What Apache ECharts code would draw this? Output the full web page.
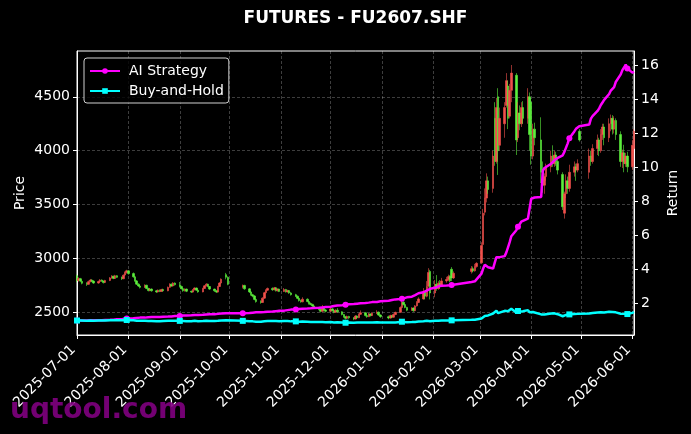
<!DOCTYPE html>
<html><head><meta charset="utf-8">
<script src="https://cdn.jsdelivr.net/npm/echarts@6/dist/echarts.min.js"></script>
<style>html,body{margin:0;padding:0;background:#000;}#c{width:691px;height:434px;}</style>
</head><body><div id="c"></div>
<script>
const dates = [
'2025-07-01','2025-07-02','2025-07-03','2025-07-04','2025-07-07','2025-07-08','2025-07-09','2025-07-10','2025-07-11','2025-07-14','2025-07-15','2025-07-16','2025-07-17','2025-07-18','2025-07-21','2025-07-22','2025-07-23','2025-07-24','2025-07-25','2025-07-28','2025-07-29','2025-07-30','2025-07-31',
'2025-08-01','2025-08-04','2025-08-05','2025-08-06','2025-08-07','2025-08-08','2025-08-11','2025-08-12','2025-08-13','2025-08-14','2025-08-15','2025-08-18','2025-08-19','2025-08-20','2025-08-21','2025-08-22','2025-08-25','2025-08-26','2025-08-27','2025-08-28','2025-08-29',
'2025-09-01','2025-09-02','2025-09-03','2025-09-04','2025-09-05','2025-09-08','2025-09-09','2025-09-10','2025-09-11','2025-09-12','2025-09-15','2025-09-16','2025-09-17','2025-09-18','2025-09-19','2025-09-22','2025-09-23','2025-09-24','2025-09-25','2025-09-26','2025-09-29','2025-09-30',
'2025-10-09','2025-10-10','2025-10-13','2025-10-14','2025-10-15','2025-10-16','2025-10-17','2025-10-20','2025-10-21','2025-10-22','2025-10-23','2025-10-24','2025-10-27','2025-10-28','2025-10-29','2025-10-30','2025-10-31',
'2025-11-03','2025-11-04','2025-11-05','2025-11-06','2025-11-07','2025-11-10','2025-11-11','2025-11-12','2025-11-13','2025-11-14','2025-11-17','2025-11-18','2025-11-19','2025-11-20','2025-11-21','2025-11-24','2025-11-25','2025-11-26','2025-11-27','2025-11-28',
'2025-12-01','2025-12-02','2025-12-03','2025-12-04','2025-12-05','2025-12-08','2025-12-09','2025-12-10','2025-12-11','2025-12-12','2025-12-15','2025-12-16','2025-12-17','2025-12-18','2025-12-19','2025-12-22','2025-12-23','2025-12-24','2025-12-25','2025-12-26','2025-12-29','2025-12-30','2025-12-31',
'2026-01-05','2026-01-06','2026-01-07','2026-01-08','2026-01-09','2026-01-12','2026-01-13','2026-01-14','2026-01-15','2026-01-16','2026-01-19','2026-01-20','2026-01-21','2026-01-22','2026-01-23','2026-01-26','2026-01-27','2026-01-28','2026-01-29','2026-01-30',
'2026-02-02','2026-02-03','2026-02-04','2026-02-05','2026-02-06','2026-02-09','2026-02-10','2026-02-11','2026-02-12','2026-02-13','2026-02-24','2026-02-25','2026-02-26','2026-02-27',
'2026-03-02','2026-03-03','2026-03-04','2026-03-05','2026-03-06','2026-03-09','2026-03-10','2026-03-11','2026-03-12','2026-03-13','2026-03-16','2026-03-17','2026-03-18','2026-03-19','2026-03-20','2026-03-23','2026-03-24','2026-03-25','2026-03-26','2026-03-27','2026-03-30','2026-03-31',
'2026-04-01','2026-04-02','2026-04-03','2026-04-07','2026-04-08','2026-04-09','2026-04-10','2026-04-13','2026-04-14','2026-04-15','2026-04-16','2026-04-17','2026-04-20','2026-04-21','2026-04-22','2026-04-23','2026-04-24','2026-04-27','2026-04-28','2026-04-29','2026-04-30',
'2026-05-06','2026-05-07','2026-05-08','2026-05-11','2026-05-12','2026-05-13','2026-05-14','2026-05-15','2026-05-18','2026-05-19','2026-05-20','2026-05-21','2026-05-22','2026-05-25','2026-05-26','2026-05-27','2026-05-28','2026-05-29',
'2026-06-01','2026-06-02'
];
// [open, close, low, high]
const ohlc = [
[2840,2795,2780,2850],[2795,2815,2785,2825],[2812,2790,2780,2820],[2788,2770,2760,2795],[2768,2760,2745,2780],[2760,2785,2755,2795],[2786,2800,2778,2810],[2800,2788,2780,2808],[2790,2772,2765,2798],[2772,2786,2766,2795],[2786,2800,2780,2808],[2800,2790,2782,2806],[2790,2776,2768,2795],[2778,2796,2772,2802],[2796,2820,2790,2828],[2820,2836,2812,2845],[2836,2815,2808,2840],[2815,2840,2810,2848],[2840,2825,2818,2845],[2825,2812,2800,2832],[2812,2845,2808,2852],[2846,2870,2838,2880],[2870,2885,2860,2895],
[2885,2860,2850,2890],[2860,2830,2822,2870],[2830,2792,2785,2838],[2792,2762,2755,2800],[2762,2745,2736,2770],[2745,2732,2722,2752],[2732,2752,2726,2760],[2752,2722,2715,2756],[2722,2702,2695,2728],[2702,2716,2696,2724],[2716,2700,2692,2722],[2700,2690,2680,2708],[2690,2706,2684,2712],[2706,2694,2688,2712],[2694,2712,2690,2718],[2712,2700,2694,2720],[2700,2732,2696,2740],[2732,2762,2728,2770],[2762,2745,2738,2768],[2745,2772,2740,2780],[2772,2756,2748,2778],
[2756,2740,2730,2782],[2740,2720,2712,2748],[2720,2700,2692,2726],[2700,2716,2694,2722],[2716,2696,2688,2720],[2696,2688,2680,2702],[2688,2710,2684,2716],[2710,2726,2704,2732],[2726,2706,2700,2730],[2706,2690,2682,2712],[2690,2722,2686,2728],[2722,2746,2718,2752],[2746,2762,2740,2770],[2762,2740,2734,2766],[2740,2716,2708,2744],[2716,2700,2690,2720],[2700,2688,2680,2706],[2688,2740,2684,2746],[2740,2772,2736,2780],[2772,2808,2766,2815],[2850,2826,2806,2866],[2826,2760,2752,2834],
[2735,2750,2722,2758],[2750,2718,2710,2756],[2718,2690,2680,2724],[2690,2664,2655,2698],[2664,2652,2640,2672],[2652,2620,2612,2660],[2620,2600,2590,2628],[2600,2592,2580,2612],[2592,2632,2588,2640],[2632,2682,2626,2690],[2682,2706,2676,2714],[2706,2722,2700,2730],[2722,2710,2700,2732],[2710,2728,2704,2736],[2728,2700,2694,2734],[2700,2716,2694,2722],[2716,2694,2688,2720],
[2694,2712,2690,2726],[2712,2690,2684,2718],[2690,2702,2684,2710],[2702,2680,2672,2708],[2680,2664,2656,2690],[2664,2650,2642,2672],[2650,2630,2622,2656],[2630,2610,2600,2636],[2610,2598,2590,2618],[2598,2622,2594,2640],[2622,2600,2594,2630],[2600,2582,2572,2606],[2582,2574,2566,2592],[2574,2560,2550,2580],[2560,2545,2536,2566],[2545,2530,2520,2552],[2530,2510,2500,2536],[2510,2545,2505,2568],[2545,2522,2515,2550],[2522,2510,2500,2530],
[2510,2532,2505,2550],[2532,2515,2508,2540],[2515,2500,2492,2522],[2500,2520,2495,2528],[2520,2505,2498,2540],[2505,2480,2472,2510],[2480,2460,2450,2486],[2460,2445,2434,2466],[2445,2462,2440,2470],[2462,2450,2440,2468],[2450,2438,2428,2456],[2438,2466,2434,2474],[2466,2450,2440,2472],[2450,2482,2446,2490],[2482,2496,2476,2518],[2496,2470,2462,2500],[2470,2460,2450,2476],[2460,2486,2456,2494],[2486,2470,2462,2490],[2470,2492,2466,2500],[2492,2502,2484,2520],[2502,2475,2468,2508],[2475,2460,2450,2482],
[2460,2448,2436,2470],[2448,2470,2442,2478],[2470,2455,2446,2476],[2455,2480,2450,2490],[2480,2500,2474,2506],[2500,2545,2495,2556],[2545,2595,2540,2615],[2595,2572,2565,2602],[2572,2546,2538,2580],[2546,2520,2510,2552],[2520,2540,2514,2548],[2540,2515,2506,2546],[2515,2560,2510,2568],[2560,2592,2554,2605],[2592,2625,2586,2640],[2625,2690,2618,2725],[2690,2650,2620,2700],[2650,2740,2640,2790],[2745,2870,2730,2910],[2880,2680,2620,2895],
[2680,2760,2640,2800],[2760,2722,2700,2846],[2722,2770,2710,2790],[2770,2742,2720,2800],[2742,2792,2735,2820],[2792,2805,2775,2830],[2805,2832,2790,2850],[2832,2792,2780,2845],[2900,2820,2790,2920],[2820,2862,2810,2880],[2880,2905,2860,2930],[2905,2885,2870,2925],[2885,2925,2878,2950],[2925,2955,2915,2965],
[2960,3120,2950,3150],[3130,3420,3120,3460],[3430,3560,3400,3650],[3560,3720,3520,3790],[3720,3640,3600,3760],[3650,3950,3610,4000],[4300,3900,3860,4450],[3900,4400,3880,4490],[4500,4000,3775,4580],[4050,4300,4000,4400],[4250,4400,4120,4450],[4420,4650,4400,4720],[4600,4300,4200,4650],[4320,4560,4300,4620],[4560,4720,4450,4795],[4700,4100,3960,4720],[4120,4350,4080,4450],[4350,4250,4190,4420],[4250,4400,4220,4450],[4400,4300,4250,4460],[4300,4500,4250,4580],[4500,4150,4000,4540],
[4450,3950,3870,4490],[3950,4200,3920,4250],[4200,4120,4050,4260],[4100,3800,3700,4310],[3800,3680,3610,3900],[3680,3760,3600,3790],[3760,3850,3720,3880],[3850,3950,3800,4000],[3950,3880,3850,4050],[3880,3960,3850,4000],[3960,3900,3860,3990],[3900,3820,3780,3930],[3780,3480,3450,3800],[3420,3600,3370,3620],[3600,3720,3560,3780],[3720,3650,3600,3760],[3650,3800,3620,3870],[3800,3850,3760,3900],[3850,3820,3720,3880],[3820,3880,3800,3920],[4180,4100,4085,4200],
[3800,3950,3740,4020],[3950,3900,3860,4000],[3900,4020,3880,4060],[4020,4100,3960,4150],[4100,4000,3950,4120],[4000,4150,3980,4200],[4150,4220,4100,4250],[4220,4120,4050,4250],[4120,4250,4080,4300],[4250,4300,4180,4335],[4300,4200,4150,4330],[4200,4280,4160,4320],[4280,4150,4100,4300],[4150,3900,3850,4180],[3900,3980,3840,4010],[3980,3880,3800,4055],[3880,3950,3850,3980],[3950,3850,3800,3990],
[3850,4050,3820,4100],[4020,4180,3980,4200]
];
const aiStrategy = [
1.00,1.01,1.00,1.00,1.00,1.01,1.01,1.01,1.01,1.01,1.02,1.02,1.02,1.03,1.04,1.05,1.05,1.07,1.07,1.08,1.09,1.11,1.12,
1.12,1.13,1.14,1.15,1.16,1.17,1.17,1.18,1.19,1.19,1.20,1.20,1.21,1.21,1.22,1.22,1.23,1.24,1.24,1.25,1.26,
1.27,1.28,1.29,1.29,1.30,1.31,1.31,1.32,1.33,1.33,1.34,1.35,1.36,1.36,1.37,1.37,1.38,1.39,1.40,1.41,1.42,1.42,
1.42,1.43,1.44,1.45,1.46,1.47,1.48,1.49,1.49,1.50,1.51,1.52,1.53,1.54,1.55,1.56,1.57,
1.58,1.60,1.61,1.62,1.64,1.65,1.66,1.67,1.68,1.69,1.70,1.71,1.72,1.73,1.74,1.75,1.76,1.77,1.78,1.79,
1.81,1.83,1.85,1.87,1.88,1.90,1.91,1.93,1.94,1.95,1.97,1.98,1.99,2.00,2.01,2.03,2.04,2.05,2.06,2.08,2.09,2.11,2.13,
2.16,2.18,2.20,2.22,2.24,2.26,2.28,2.30,2.33,2.36,2.40,2.44,2.49,2.55,2.60,2.66,2.70,2.76,2.82,2.86,
2.92,2.97,3.01,3.03,3.04,3.05,3.06,3.07,3.08,3.10,3.26,3.28,3.30,3.32,
3.75,4.05,4.28,4.22,4.13,4.05,4.40,4.72,4.75,4.72,4.78,5.00,5.30,5.60,5.95,6.30,6.50,6.65,6.80,6.90,6.98,7.05,
8.15,8.20,8.22,8.25,9.80,9.95,10.05,10.20,10.30,10.40,10.45,10.55,10.70,10.90,11.15,11.40,11.70,12.10,12.25,12.35,12.40,
12.50,12.85,13.00,13.30,13.45,13.65,13.80,13.95,14.30,14.50,14.60,14.70,15.00,15.45,15.70,15.85,16.02,15.80,
15.55,15.60
];
const buyHold = [
1.00,1.01,1.00,0.99,0.99,1.00,1.00,1.00,0.99,1.00,1.00,1.00,0.99,1.00,1.01,1.01,1.01,1.02,1.01,1.01,1.02,1.03,1.03,
1.02,1.01,1.00,0.99,0.98,0.98,0.98,0.97,0.97,0.97,0.97,0.96,0.97,0.96,0.97,0.97,0.98,0.99,0.98,0.99,0.99,
0.98,0.97,0.97,0.97,0.96,0.96,0.97,0.98,0.97,0.96,0.97,0.98,0.99,0.98,0.97,0.97,0.96,0.98,0.99,1.00,1.01,0.99,
0.98,0.97,0.96,0.95,0.95,0.94,0.93,0.93,0.94,0.96,0.97,0.97,0.97,0.98,0.97,0.97,0.96,
0.97,0.96,0.97,0.96,0.95,0.95,0.94,0.93,0.93,0.94,0.93,0.92,0.92,0.92,0.91,0.91,0.90,0.91,0.90,0.90,
0.91,0.90,0.89,0.90,0.90,0.89,0.88,0.87,0.88,0.88,0.87,0.88,0.88,0.89,0.89,0.88,0.88,0.89,0.88,0.89,0.90,0.89,0.88,
0.88,0.88,0.88,0.89,0.89,0.91,0.93,0.92,0.91,0.90,0.91,0.90,0.92,0.93,0.94,0.96,0.95,0.98,1.03,0.96,
0.99,0.97,0.99,0.98,1.00,1.00,1.01,1.00,1.01,1.02,1.04,1.03,1.05,1.06,
1.12,1.22,1.27,1.33,1.30,1.41,1.40,1.57,1.43,1.54,1.57,1.66,1.54,1.63,1.69,1.47,1.56,1.52,1.57,1.54,1.61,1.48,
1.41,1.50,1.47,1.36,1.32,1.35,1.38,1.41,1.39,1.42,1.40,1.37,1.25,1.29,1.33,1.31,1.36,1.38,1.37,1.39,1.47,
1.41,1.40,1.44,1.47,1.43,1.48,1.51,1.47,1.52,1.54,1.50,1.53,1.48,1.40,1.42,1.39,1.41,1.38,
1.45,1.50
];
const priceTicks = [2500, 3000, 3500, 4000, 4500];
const returnTicks = [2, 4, 6, 8, 10, 12, 14, 16];
const xStart = '2025-07-01';
const xEnd = '2026-06-02';
const markerEvery = 22;

function ts(s) { const p = s.split('-').map(Number); return new Date(p[0], p[1] - 1, p[2]).getTime(); }
function fmt(v) { const d = new Date(v); const m = d.getMonth() + 1, dd = d.getDate(); return d.getFullYear() + '-' + (m < 10 ? '0' : '') + m + '-' + (dd < 10 ? '0' : '') + dd; }
const t = dates.map(ts);
const candleData = t.map((x, i) => [x].concat(ohlc[i]));
const aiData = t.map((x, i) => [x, aiStrategy[i]]);
const bhData = t.map((x, i) => [x, buyHold[i]]);

const FONT = 'DejaVu Sans';
const gridLine = { show: true, lineStyle: { color: 'rgba(255,255,255,0.3)', type: [3, 2], width: 0.8 } };
const UP = '#f2504b', DOWN = '#5cf03c';

const chart = echarts.init(document.getElementById('c'), null, { renderer: 'canvas' });
chart.setOption({
  animation: false,
  backgroundColor: '#000',
  grid: { left: 77, top: 51, width: 557, height: 284, show: true, borderColor: '#fff', borderWidth: 1, backgroundColor: 'transparent' },
  legend: {
    left: 84, top: 58, orient: 'vertical', data: ['AI Strategy', 'Buy-and-Hold'],
    backgroundColor: 'rgba(0,0,0,0.8)', borderColor: '#d0d0d0', borderWidth: 1, borderRadius: 3,
    padding: [6, 5, 5, 5], itemWidth: 30, itemHeight: 7, itemGap: 6,
    textStyle: { color: '#fff', fontFamily: FONT, fontSize: 14, padding: [0, 0, 0, 4] }
  },
  xAxis: {
    type: 'time', min: ts(xStart), max: ts(xEnd), splitNumber: 11,
    axisLine: { show: true, lineStyle: { color: '#fff', width: 1 } },
    axisTick: { show: true, length: 4, lineStyle: { color: '#fff' } },
    axisLabel: { rotate: 45, color: '#fff', fontFamily: FONT, fontSize: 14, margin: 9, padding: [0, 5, 0, 0], hideOverlap: false, formatter: (v) => fmt(v) },
    splitLine: gridLine
  },
  yAxis: [
    {
      type: 'value', min: 2290, max: 4925, position: 'left',
      name: 'Price', nameLocation: 'middle', nameGap: 50, nameMoveOverlap: false,
      nameTextStyle: { color: '#fff', fontFamily: FONT, fontSize: 14 },
      axisLine: { show: true, lineStyle: { color: '#fff' } },
      axisTick: { show: true, length: 4, customValues: priceTicks, lineStyle: { color: '#fff' } },
      axisLabel: { color: '#fff', fontFamily: FONT, fontSize: 14, margin: 7, customValues: priceTicks, formatter: (v) => String(v) },
      splitLine: gridLine
    },
    {
      type: 'value', min: 0.15, max: 16.82, position: 'right',
      name: 'Return', nameLocation: 'middle', nameGap: 32, nameMoveOverlap: false,
      nameTextStyle: { color: '#fff', fontFamily: FONT, fontSize: 14 },
      axisLine: { show: true, lineStyle: { color: '#fff' } },
      axisTick: { show: true, length: 4, customValues: returnTicks, lineStyle: { color: '#fff' } },
      axisLabel: { color: '#fff', fontFamily: FONT, fontSize: 14, margin: 7, customValues: returnTicks, formatter: (v) => String(v) },
      splitLine: { show: false }
    }
  ],
  series: [
    {
      type: 'candlestick', name: 'Price', xAxisIndex: 0, yAxisIndex: 0, data: candleData,
      encode: { x: 0, y: [1, 2, 3, 4] }, barWidth: 2, z: 1,
      itemStyle: { color: UP, color0: DOWN, borderColor: UP, borderColor0: DOWN, borderWidth: 0.6 }
    },
    {
      type: 'line', name: 'AI Strategy', xAxisIndex: 0, yAxisIndex: 1, data: aiData, z: 3,
      symbol: 'circle', showSymbol: true, showAllSymbol: true,
      symbolSize: (v, p) => (p && p.dataIndex % markerEvery === 0) ? 6 : 0,
      lineStyle: { color: '#ff00ff', width: 2.5 }, itemStyle: { color: '#ff00ff' }
    },
    {
      type: 'line', name: 'Buy-and-Hold', xAxisIndex: 0, yAxisIndex: 1, data: bhData, z: 4,
      symbol: 'rect', showSymbol: true, showAllSymbol: true,
      symbolSize: (v, p) => (p && p.dataIndex % markerEvery === 0) ? 6 : 0,
      lineStyle: { color: '#00ffff', width: 2.5 }, itemStyle: { color: '#00ffff' }
    }
  ],
  graphic: [
    { type: 'text', x: 355.5, y: 18.5, z: 10, style: { text: 'FUTURES - FU2607.SHF', align: 'center', verticalAlign: 'middle', font: 'bold 17px "DejaVu Sans"', fill: '#fff' } },
    { type: 'text', x: 10, y: 411, z: 100, style: { text: 'uqtool.com', align: 'left', verticalAlign: 'middle', font: 'bold 28px "DejaVu Sans"', fill: 'rgba(128,0,128,0.9)' } }
  ]
});
</script>
</body></html>
